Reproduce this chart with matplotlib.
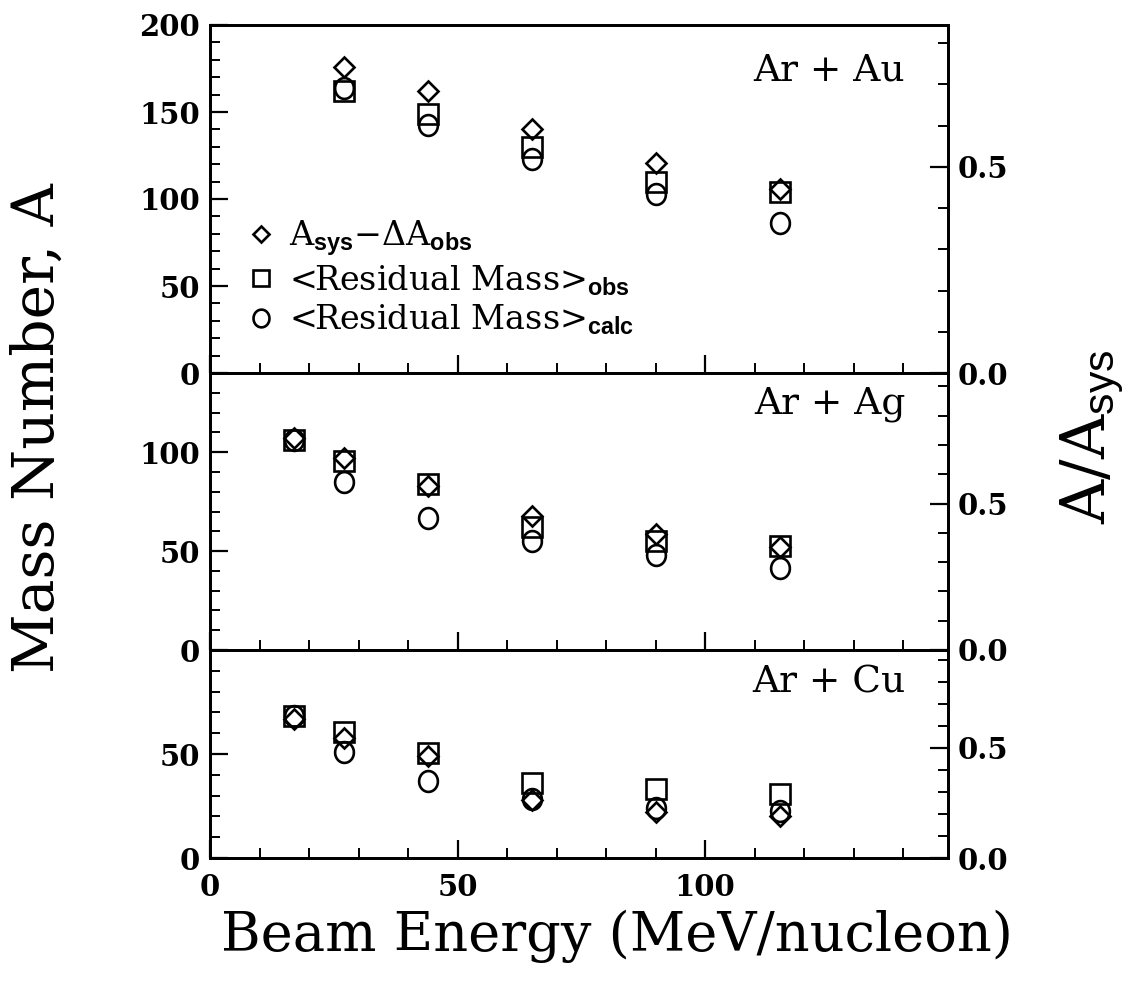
import numpy as np
import matplotlib.pyplot as plt
from matplotlib.path import Path
from matplotlib.ticker import MultipleLocator, FixedLocator

plt.rcParams['font.family'] = ['DejaVu Serif', 'DejaVu Sans']
plt.rcParams['mathtext.fontset'] = 'custom'
plt.rcParams['mathtext.rm'] = 'DejaVu Serif'
plt.rcParams['mathtext.bf'] = 'Liberation Sans:bold'
plt.rcParams['mathtext.sf'] = 'Liberation Sans'

# beam energies (MeV/nucleon)
e_au = [27, 44, 65, 90, 115]
e_ag = [17, 27, 44, 65, 90, 115]
e_cu = [17, 27, 44, 65, 90, 115]

# A_sys - dA_obs (diamonds)
dia_au = [176, 162, 140, 120.5, 106]
dia_ag = [107, 97, 83, 67.5, 58.5, 52]
dia_cu = [67, 57.5, 48.8, 28, 22, 20]

# <Residual Mass>_obs (squares)
sq_au = [162, 149, 130, 110, 104]
sq_ag = [106, 95.5, 84, 62, 55, 52.5]
sq_cu = [68.5, 60.8, 50.7, 36, 33, 31]

# <Residual Mass>_calc (circles)
circ_au = [164, 142.5, 123, 103, 86]
circ_ag = [106, 85, 66.5, 55, 48, 41.5]
circ_cu = [68.5, 51.2, 36.8, 28.3, 24, 22.4]

systems = ['Ar + Au', 'Ar + Ag', 'Ar + Cu']
ymax = [200, 140, 100]
asys = [237, 148, 105.8]
ymajor = [[0, 50, 100, 150, 200], [0, 50, 100], [0, 50]]

energies = [e_au, e_ag, e_cu]
diamonds = [dia_au, dia_ag, dia_cu]
squares = [sq_au, sq_ag, sq_cu]
circles = [circ_au, circ_ag, circ_cu]

# slightly tall oval marker, like the original plot symbol
t = np.linspace(0, 2 * np.pi, 80)
oval = Path(np.column_stack([0.45 * np.cos(t), 0.5 * np.sin(t)]))

fig = plt.figure(figsize=(11.31, 9.94), dpi=100)

# panel boxes in figure pixels (top, bottom)
L, R = 210, 948
boxes = [(25, 373), (373, 650), (650, 858)]
W, H = 1131, 994

label_y = [0.868, 0.888, 0.846]
tick_font = dict(family='DejaVu Serif', weight='bold', size=21)

for i, (top, bot) in enumerate(boxes):
    ax = fig.add_axes([L / W, 1 - bot / H, (R - L) / W, (bot - top) / H])
    style = dict(ls='none', mfc='none', mec='k', mew=1.9)
    h1, = ax.plot(energies[i], diamonds[i], marker='D', ms=10, **style)
    h2, = ax.plot(energies[i], squares[i], marker='s', ms=14, **style)
    h3, = ax.plot(energies[i], circles[i], marker=oval, ms=15, **style)

    ax.set_xlim(0, 149)
    ax.set_ylim(0, ymax[i])
    ax.xaxis.set_major_locator(FixedLocator([0, 50, 100]))
    ax.xaxis.set_minor_locator(MultipleLocator(10))
    ax.yaxis.set_major_locator(FixedLocator(ymajor[i]))
    ax.yaxis.set_minor_locator(MultipleLocator(10))
    ax.tick_params(axis='both', which='both', direction='in',
                   top=False, right=False)
    ax.tick_params(which='major', length=13, width=1.6)
    ax.tick_params(which='minor', length=7, width=1.4)
    ax.tick_params(axis='y', pad=7)
    ax.tick_params(axis='x', pad=11)
    if i < 2:
        ax.tick_params(labelbottom=False)
    for lab in ax.get_xticklabels() + ax.get_yticklabels():
        lab.set(**tick_font)
    for s in ax.spines.values():
        s.set_linewidth(2.0)

    ax2 = ax.twinx()
    ax2.set_ylim(0, ymax[i] / asys[i])
    ax2.yaxis.set_major_locator(FixedLocator([0.0, 0.5]))
    ax2.yaxis.set_minor_locator(MultipleLocator(0.1))
    ax2.yaxis.set_major_formatter(plt.FormatStrFormatter('%.1f'))
    ax2.tick_params(axis='y', which='both', direction='in', pad=7)
    ax2.tick_params(which='major', length=13, width=1.6)
    ax2.tick_params(which='minor', length=7, width=1.4)
    for lab in ax2.get_yticklabels():
        lab.set(**tick_font)
    for s in ax2.spines.values():
        s.set_linewidth(2.0)

    ax.text(0.942, label_y[i], systems[i], transform=ax.transAxes,
            ha='right', va='center', fontsize=27)

    if i == 0:
        ax.legend([h1, h2, h3],
                  ['A$_{\\mathbf{sys}}$\u2212\u0394A$_{\\mathbf{obs}}$',
                   '<Residual Mass>$_{\\mathbf{obs}}$',
                   '<Residual Mass>$_{\\mathbf{calc}}$'],
                  loc='upper left', bbox_to_anchor=(0.055, 0.445),
                  frameon=False, fontsize=24, handlelength=0.6,
                  handletextpad=0.55, labelspacing=0.15, borderpad=0,
                  borderaxespad=0, markerscale=0.85, numpoints=1)

fig.text(38 / W, 1 - 428 / H, 'Mass Number, A', rotation=90,
         ha='center', va='center', fontsize=42)
fig.text(1092 / W, 1 - 437 / H, 'A/A$_{\\mathsf{sys}}$', rotation=90,
         ha='center', va='center', fontsize=44)
fig.text(617 / W, 1 - 951 / H, 'Beam Energy (MeV/nucleon)',
         ha='center', va='baseline', fontsize=39)

fig.savefig('out.png', dpi=100)
